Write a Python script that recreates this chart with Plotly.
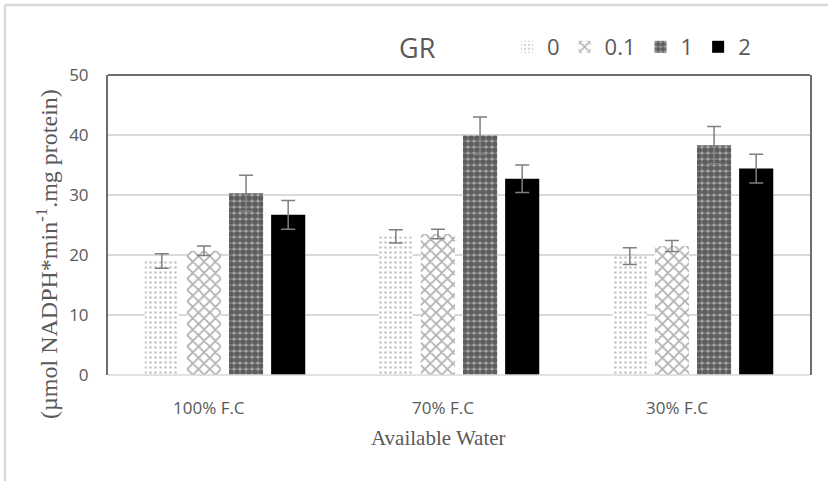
import plotly.graph_objects as go

categories = ["100% F.C", "70% F.C", "30% F.C"]
series_names = ["0", "0.1", "1", "2"]
values_0 = [19.0, 23.1, 19.8]
values_01 = [20.7, 23.5, 21.5]
values_1 = [30.3, 39.9, 38.3]
values_2 = [26.7, 32.7, 34.4]
err_0 = [1.2, 1.1, 1.4]
err_01 = [0.8, 0.8, 0.9]
err_1 = [3.0, 3.1, 3.1]
err_2 = [2.4, 2.3, 2.4]
y_ticks = [0, 10, 20, 30, 40, 50]

values = [values_0, values_01, values_1, values_2]
errors = [err_0, err_01, err_1, err_2]
patterns = [
    dict(shape=".", fgcolor="#8a8a8a", bgcolor="white", size=5, solidity=0.22),
    dict(shape="x", fgcolor="#636363", bgcolor="white", size=8, solidity=0.4),
    dict(shape=".", fgcolor="#111111", bgcolor="#a8a8a8", size=6, solidity=0.72),
    dict(shape="", fgcolor="black", bgcolor="black"),
]
colors = ["white", "white", "#a8a8a8", "black"]

fig = go.Figure()
for name, v, e, p, c in zip(series_names, values, errors, patterns, colors):
    fig.add_trace(go.Bar(
        x=categories, y=v, name=name,
        marker=dict(color=c, pattern=p, line=dict(width=0)),
        error_y=dict(type="data", array=e, visible=True, color="#7f7f7f", thickness=1.5, width=7),
    ))

L, R, T, B = 108, 18, 75, 106
W, H = 828, 481
pw, ph = W - L - R, H - T - B

def px(x):
    return (x - L) / pw

def py(y):
    return 1 - (y - T) / ph

fig.update_layout(
    width=W, height=H,
    margin=dict(l=L, r=R, t=T, b=B),
    paper_bgcolor="white", plot_bgcolor="white",
    barmode="group", bargap=0.28, bargroupgap=0.19,
    showlegend=True,
    legend=dict(orientation="h", x=px(507), xanchor="left", y=py(47), yanchor="middle",
                font=dict(family="Open Sans", size=22, color="#595959"),
                bgcolor="rgba(0,0,0,0)", itemwidth=30, traceorder="normal"),
    font=dict(family="Open Sans", color="#595959"),
)
fig.update_yaxes(range=[0, 50], tickvals=y_ticks, showgrid=True, gridcolor="#d9d9d9", gridwidth=1.5,
                 zeroline=False, showline=True, linecolor="#6e6e6e", linewidth=2, mirror=True,
                 tickfont=dict(family="Open Sans", size=17, color="#595959"),
                 ticks="", ticklabelstandoff=14)
fig.update_xaxes(showline=False, showticklabels=False, ticks="")

# category labels as annotations placed on the category axis
for cat in categories:
    fig.add_annotation(text=cat, x=cat, xref="x", yref="paper", y=py(407),
                       xanchor="center", yanchor="middle", showarrow=False, xshift=-16,
                       font=dict(family="Open Sans", size=17, color="#595959"))

shapes = [
    dict(type="line", xref="paper", yref="paper", x0=0, x1=1, y0=1, y1=1,
         line=dict(color="#6e6e6e", width=2)),
    dict(type="line", xref="paper", yref="paper", x0=0, x1=1, y0=0, y1=0,
         line=dict(color="#d9d9d9", width=1.5)),
    dict(type="line", xref="paper", yref="paper", x0=px(5), x1=px(5), y0=py(5), y1=py(490),
         line=dict(color="#d9d9d9", width=2.5)),
    dict(type="line", xref="paper", yref="paper", x0=px(5), x1=px(840), y0=py(5), y1=py(5),
         line=dict(color="#d9d9d9", width=2.5)),
]
fig.update_layout(shapes=shapes)

fig.add_annotation(text="GR", xref="paper", yref="paper", x=px(417), y=py(47),
                   xanchor="center", yanchor="middle", showarrow=False,
                   font=dict(family="Open Sans", size=27, color="#595959"))
fig.add_annotation(text="Available Water", xref="paper", yref="paper", x=px(438), y=py(438),
                   xanchor="center", yanchor="middle", showarrow=False,
                   font=dict(family="Liberation Serif", size=21, color="#595959"))
fig.add_annotation(text="(µmol NADPH*min<sup>-1</sup>.mg protein)", xref="paper", yref="paper",
                   x=px(47), y=py(254), xanchor="center", yanchor="middle", showarrow=False,
                   textangle=-90,
                   font=dict(family="Liberation Serif", size=24, color="#595959"))

fig.write_html("out.html")
